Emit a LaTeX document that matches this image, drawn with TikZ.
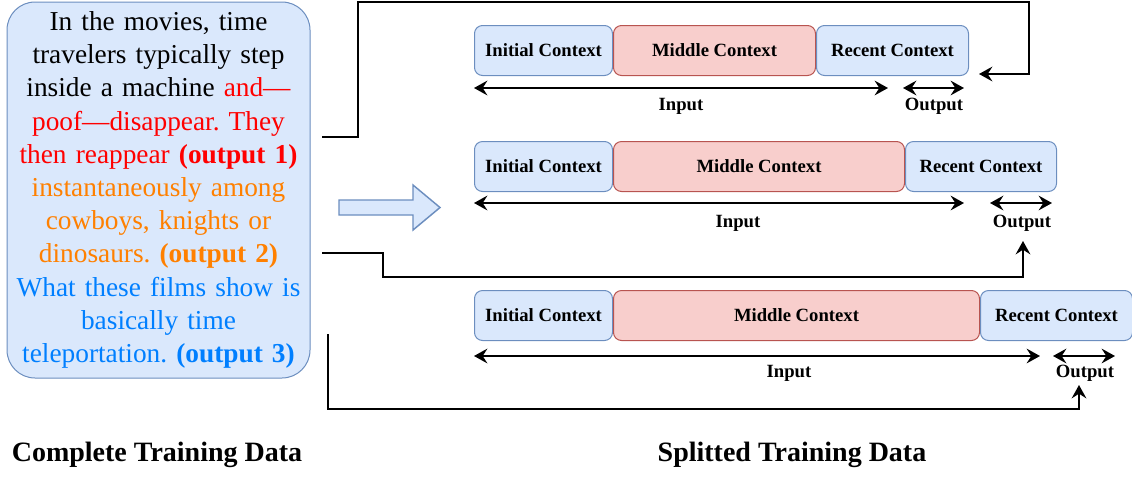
\documentclass[tikz,border=0pt]{standalone}
\usepackage{fontspec}
\setmainfont{Liberation Serif}
\usetikzlibrary{positioning,arrows.meta}

\definecolor{boxblue}{HTML}{DAE8FC}
\definecolor{lineblue}{HTML}{6C8EBF}
\definecolor{boxpink}{HTML}{F8CECC}
\definecolor{linered}{HTML}{B85450}
\definecolor{txtred}{HTML}{FF0000}
\definecolor{txtorange}{HTML}{FF8000}
\definecolor{txtblue}{HTML}{007FFF}

\tikzset{
  seg/.style={draw, rounded corners=6pt, line width=0.75pt, minimum height=37.5pt,
    inner sep=0pt, font=\fontsize{14}{16}\selectfont\bfseries},
  initseg/.style={seg, fill=boxblue, draw=lineblue, minimum width=103.5pt},
  recseg/.style={seg, fill=boxblue, draw=lineblue},
  midseg/.style={seg, fill=boxpink, draw=linered},
  span/.style={line width=1.8pt, {Stealth[length=10pt,width=11pt,inset=3.5pt]}-{Stealth[length=10pt,width=11pt,inset=3.5pt]}},
  link/.style={line width=1.8pt, line join=miter, -{Stealth[length=10pt,width=11pt,inset=3.5pt]}},
  lab/.style={font=\fontsize{14}{16}\selectfont\bfseries, inner sep=0pt},
  title/.style={font=\fontsize{21}{24}\selectfont\bfseries, inner sep=0pt},
}

\begin{document}
\begin{tikzpicture}[x=0.75pt, y=-0.75pt]
\useasboundingbox (0,0) rectangle (1132,476);

% Complete training data
\node[draw=lineblue, fill=boxblue, line width=0.75pt, rounded corners=21pt,
  minimum width=227.25pt, minimum height=282pt, text width=225pt, align=center,
  inner sep=0pt, font=\fontsize{20.5}{24.9}\selectfont\frenchspacing] (full) at (158.5,190) {%
  In the movies, time\\
  travelers typically step\\
  inside a machine \textcolor{txtred}{and—}\\
  \textcolor{txtred}{poof—disappear. They}\\
  \textcolor{txtred}{then reappear \textbf{(output 1)}}\\
  \textcolor{txtorange}{instantaneously among}\\
  \textcolor{txtorange}{cowboys, knights or}\\
  \textcolor{txtorange}{dinosaurs. \textbf{(output 2)}}\\
  \textcolor{txtblue}{What these films show is}\\
  \textcolor{txtblue}{basically time}\\
  \textcolor{txtblue}{teleportation. \textbf{(output 3)}}};

% Block arrow
\draw[draw=lineblue, fill=boxblue, line width=1.1pt]
  (339,200) -- (413,200) -- (413,185) -- (440,207.5) -- (413,230) -- (413,215) -- (339,215) -- cycle;

% Split 1
\node[initseg, anchor=north west] (init1) at (474,25) {Initial Context};
\node[midseg, minimum width=151.5pt, right=0pt of init1] (mid1) {Middle Context};
\node[recseg, minimum width=114pt, right=0pt of mid1] (rec1) {Recent Context};
\draw[span] (474,88) -- (888,88);
\draw[span] (903,88) -- (964,88);
\node[lab] (ilab1) at (681,106) {Input};
\node[lab] (olab1) at (934,106) {Output};

% Split 2
\node[initseg, anchor=north west] (init2) at (474,141) {Initial Context};
\node[midseg, minimum width=218.25pt, right=0pt of init2] (mid2) {Middle Context};
\node[recseg, minimum width=113.25pt, right=0pt of mid2] (rec2) {Recent Context};
\draw[span] (474,203) -- (964,203);
\draw[span] (990,203) -- (1052,203);
\node[lab] (ilab2) at (738,223) {Input};
\node[lab] (olab2) at (1022,223) {Output};

% Split 3
\node[initseg, anchor=north west] (init3) at (474,290) {Initial Context};
\node[midseg, minimum width=274.5pt, right=0pt of init3] (mid3) {Middle Context};
\node[recseg, minimum width=114pt, right=0pt of mid3] (rec3) {Recent Context};
\draw[span] (474,356) -- (1040,356);
\draw[span] (1053,356) -- (1115,356);
\node[lab] (ilab3) at (789,373) {Input};
\node[lab] (olab3) at (1085,373) {Output};

% Links from the text to the outputs
\coordinate (from1) at (322,137);
\coordinate (from2) at (322,253);
\coordinate (from3) at (328,334);
\coordinate (to1) at (979,74);
\coordinate (to2) at (1023,241);
\coordinate (to3) at (1079,385);
\draw[link] (from1) -| (358,2) -| (1029,74) -- (to1);
\draw[link] (from2) -| (383,277) -| (to2);
\draw[link] (from3) -- (328,409) -| (to3);

% Titles
\node[title] (tfull) at (157,455) {Complete Training Data};
\node[title] (tsplit) at (792,455) {Splitted Training Data};
\end{tikzpicture}
\end{document}
